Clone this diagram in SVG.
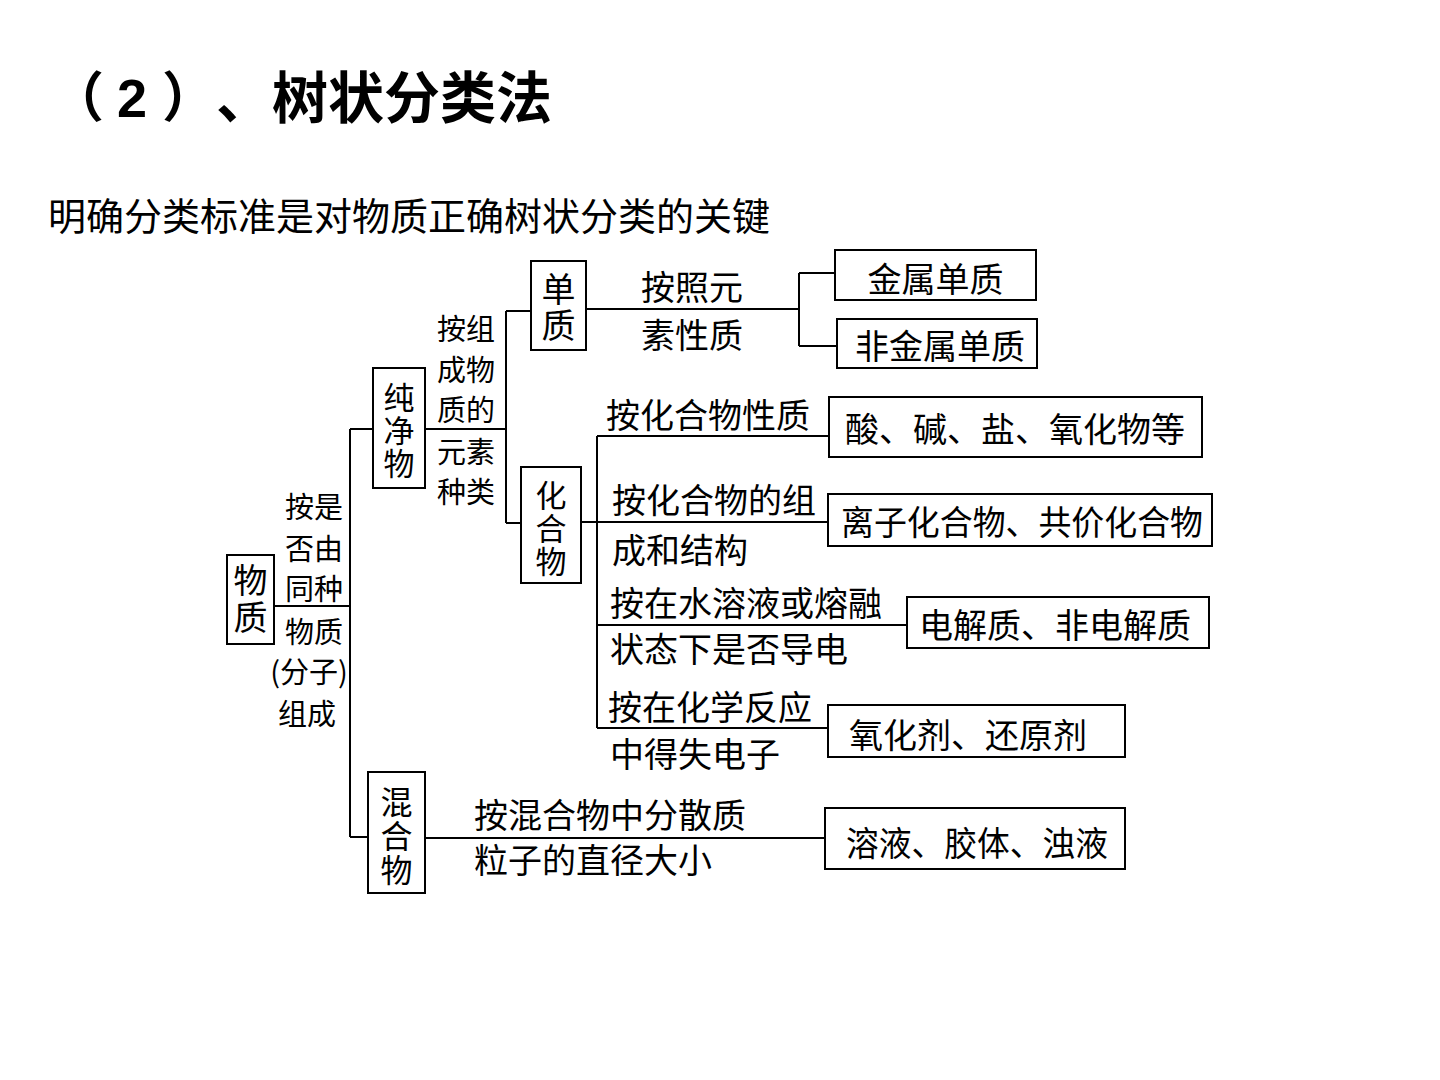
<svg xmlns="http://www.w3.org/2000/svg" width="1440" height="1080" viewBox="0 0 1440 1080">
<style>
.t{font-family:"Noto Sans CJK SC","Liberation Serif",serif;fill:#000;dominant-baseline:central}
.m{font-size:34px}
.s{font-size:29px}
.vt{font-family:"Noto Sans CJK SC",sans-serif;fill:#000;writing-mode:vertical-rl;text-anchor:middle;dominant-baseline:central}
.ttl{font-family:"Liberation Sans","Noto Sans CJK SC",sans-serif;font-weight:bold;font-size:54px;fill:#000;dominant-baseline:central}
.sub{font-family:"Noto Sans CJK SC",sans-serif;font-size:38px;fill:#000;dominant-baseline:central}
.box{fill:#fff;stroke:#000;stroke-width:2}
.ln{fill:none;stroke:#000;stroke-width:2}
</style>
<rect width="1440" height="1080" fill="#fff"/>
<g id="title">
<text class="ttl" y="98"><tspan x="50">（</tspan><tspan x="117">2</tspan><tspan x="162">）</tspan><tspan x="216" font-size="56">、树状分类法</tspan></text>
</g>
<g id="subtitle">
<text class="sub" x="48" y="213">明确分类标准是对物质正确树状分类的关键</text>
</g>
<g id="connectors">
<path class="ln" d="M274 606H350M350 429V837M350 429H373M350 837H368"/>
<path class="ln" d="M425 429H506M506 311V523M506 311H531M506 523H521"/>
<path class="ln" d="M586 309H799M799 273V346M799 273H835M799 346H837"/>
<path class="ln" d="M581 522H597M597 436V728M597 436H829M597 522H828M597 625H907M597 728H828"/>
<path class="ln" d="M425 838H825"/>
</g>
<g id="node-wuzhi">
<rect class="box" x="227" y="555" width="47" height="89"/>
<text class="vt" font-size="34" letter-spacing="3" x="250.5" y="600">物质</text>
</g>
<g id="label-shifou">
<text class="t s" text-anchor="middle"><tspan x="314" y="505">按是</tspan><tspan x="314" y="547">否由</tspan><tspan x="314" y="587">同种</tspan><tspan x="314" y="630">物质</tspan><tspan x="309" y="670">(分子)</tspan><tspan x="307" y="712">组成</tspan></text>
</g>
<g id="node-chunjingwu">
<rect class="box" x="373" y="368" width="52" height="120"/>
<text class="vt" font-size="31" letter-spacing="2" x="399" y="431">纯净物</text>
</g>
<g id="label-zucheng">
<text class="t s" text-anchor="middle"><tspan x="466" y="327">按组</tspan><tspan x="466" y="368">成物</tspan><tspan x="466" y="408">质的</tspan><tspan x="466" y="450">元素</tspan><tspan x="466" y="490">种类</tspan></text>
</g>
<g id="node-danzhi">
<rect class="box" x="531" y="261" width="55" height="89"/>
<text class="vt" font-size="34" letter-spacing="2" x="558.5" y="308">单质</text>
</g>
<g id="label-yuansu">
<text class="t m" x="692" y="285" text-anchor="middle">按照元</text>
<text class="t m" x="692" y="333" text-anchor="middle">素性质</text>
</g>
<g id="node-jinshu">
<rect class="box" x="835" y="250" width="201" height="50"/>
<text class="t m" x="935.5" y="277" text-anchor="middle">金属单质</text>
</g>
<g id="node-feijinshu">
<rect class="box" x="837" y="319" width="200" height="49"/>
<text class="t m" x="940" y="344" text-anchor="middle">非金属单质</text>
</g>
<g id="node-huahewu">
<rect class="box" x="521" y="467" width="60" height="116"/>
<text class="vt" font-size="31" letter-spacing="2" x="551" y="529">化合物</text>
</g>
<g id="labels-huahewu">
<text class="t m" x="606" y="413">按化合物性质</text>
<text class="t m" x="612" y="498">按化合物的组</text>
<text class="t m" x="612" y="548">成和结构</text>
<text class="t m" x="610" y="601">按在水溶液或熔融</text>
<text class="t m" x="610" y="647">状态下是否导电</text>
<text class="t m" x="608" y="705">按在化学反应</text>
<text class="t m" x="610" y="752">中得失电子</text>
</g>
<g id="node-suanjian">
<rect class="box" x="829" y="397" width="373" height="60"/>
<text class="t m" x="845" y="427">酸、碱、盐、氧化物等</text>
</g>
<g id="node-lizi">
<rect class="box" x="828" y="494" width="384" height="52"/>
<text class="t m" x="841" y="520" textLength="362" lengthAdjust="spacingAndGlyphs">离子化合物、共价化合物</text>
</g>
<g id="node-dianjiezhi">
<rect class="box" x="907" y="597" width="302" height="51"/>
<text class="t m" x="919" y="623">电解质、非电解质</text>
</g>
<g id="node-yanghuaji">
<rect class="box" x="828" y="705" width="297" height="52"/>
<text class="t m" x="849" y="733">氧化剂、还原剂</text>
</g>
<g id="node-hunhewu">
<rect class="box" x="368" y="772" width="57" height="121"/>
<text class="vt" font-size="32" letter-spacing="2" x="396.5" y="837">混合物</text>
</g>
<g id="labels-hunhewu">
<text class="t m" x="474" y="813">按混合物中分散质</text>
<text class="t m" x="474" y="858">粒子的直径大小</text>
</g>
<g id="node-rongye">
<rect class="box" x="825" y="808" width="300" height="61"/>
<text class="t m" x="846" y="841" textLength="262" lengthAdjust="spacingAndGlyphs">溶液、胶体、浊液</text>
</g>
</svg>
